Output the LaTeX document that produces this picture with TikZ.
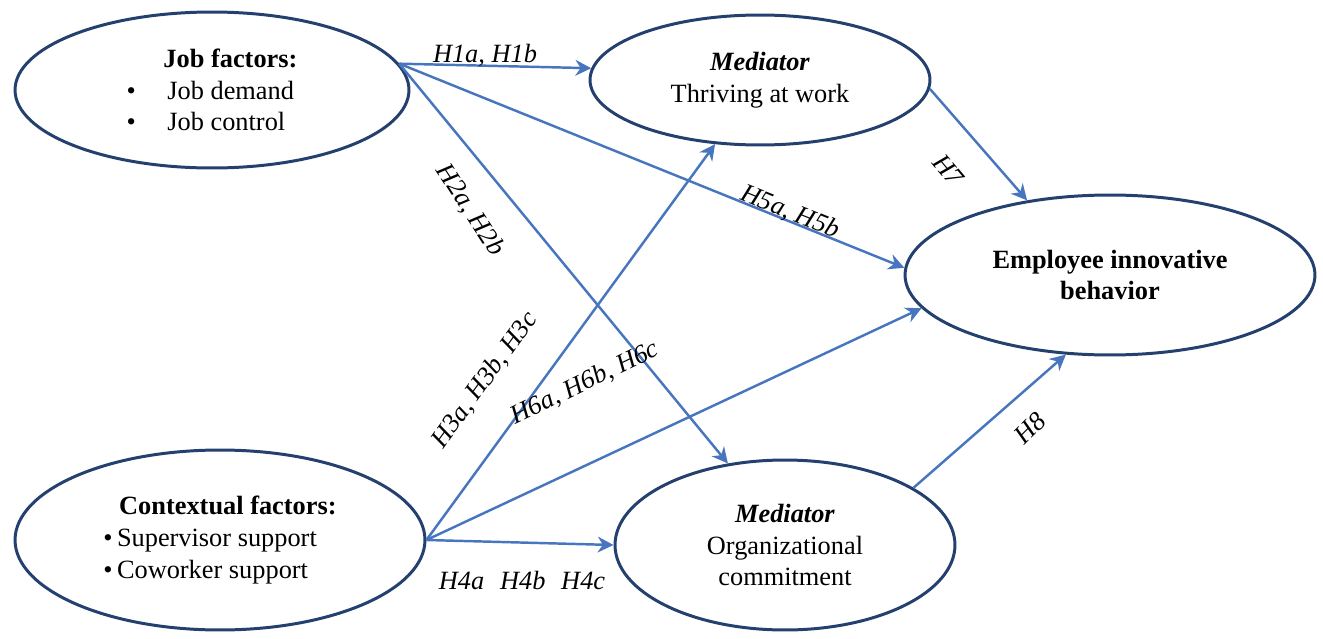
\documentclass[tikz,border=0pt]{standalone}
\usepackage{fontspec}
\setmainfont{Liberation Serif}
\usetikzlibrary{shapes.geometric,arrows.meta}
\definecolor{ebord}{RGB}{35,64,110}
\definecolor{arr}{RGB}{72,118,190}
\begin{document}
\begin{tikzpicture}[x=0.02cm,y=-0.02cm,
  el/.style={ellipse,draw=ebord,line width=1.7pt,fill=white,align=center,font=\fontsize{15}{18}\selectfont},
  ar/.style={draw=arr,line width=1.4pt,-{Stealth[length=9pt,width=9pt]}},
  lb/.style={font=\fontsize{15}{18}\selectfont\itshape,inner sep=1pt}]
\useasboundingbox (0,0) rectangle (1323,639);
\node[el,minimum width=7.88cm,minimum height=3.12cm] (job) at (212,90) {};
\node[font=\fontsize{15}{18}\selectfont,align=left] (jt) at (212,90) {\hspace*{1.4em}\textbf{Job factors:}\\ \textbullet\hspace{1.2em}Job demand\\ \textbullet\hspace{1.2em}Job control};
\node[el,minimum width=6.8cm,minimum height=2.6cm] (thr) at (760,80) {\textbf{\textit{Mediator}}\\Thriving at work};
\node[el,minimum width=8.2cm,minimum height=3.2cm] (emp) at (1110,275) {\textbf{Employee innovative}\\\textbf{behavior}};
\node[el,minimum width=8.2cm,minimum height=3.6cm] (ctx) at (220,540) {};
\node[font=\fontsize{15}{18}\selectfont,align=left] (ct) at (220,540) {\hspace*{0.6em}\textbf{Contextual factors:}\\ \textbullet\,Supervisor support\\ \textbullet\,Coworker support};
\node[el,minimum width=6.8cm,minimum height=3.4cm] (org) at (785,545) {\textbf{\textit{Mediator}}\\Organizational\\commitment};
\draw[ar] (job.8) -- (thr.176);
\draw[ar] (job.8) -- (emp.178);
\draw[ar] (job.8) -- (org.125);
\draw[ar] (ctx.0) -- (thr.235);
\draw[ar] (ctx.0) -- (emp.190);
\draw[ar] (ctx.0) -- (org.180);
\draw[ar] (thr.357) -- (emp.138);
\draw[ar] (org.24) -- (emp.241);
\node[lb] (l1) at (485,55) {H1a, H1b};
\node[lb,rotate=-22] (l5) at (790,212) {H5a, H5b};
\node[lb,rotate=-57] (l2) at (470,210) {H2a, H2b};
\node[lb,rotate=54] (l3) at (485,380) {H3a, H3b, H3c};
\node[lb,rotate=26] (l6) at (585,383) {H6a, H6b, H6c};
\node[lb] (l4) at (522,580) {H4a\hspace{0.6em}H4b\hspace{0.6em}H4c};
\node[lb,rotate=-50] (l7) at (948,170) {H7};
\node[lb,rotate=45] (l8) at (1030,428) {H8};
\end{tikzpicture}
\end{document}
